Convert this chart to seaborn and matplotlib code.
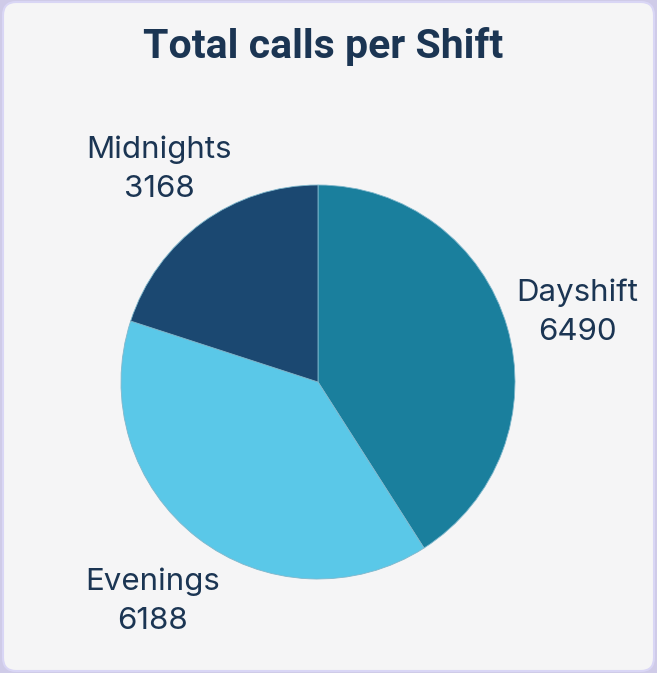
import matplotlib.pyplot as plt
import matplotlib.transforms as mtransforms
import seaborn as sns
from matplotlib.patches import FancyBboxPatch

# === data ===
shifts = ["Dayshift", "Evenings", "Midnights"]
calls = [6490, 6188, 3168]
colors = ["#1a7f9d", "#5ac8e8", "#1b4871"]

sns.set_theme(style="white")
plt.rcParams['font.family'] = ['Inter', 'DejaVu Sans']

W, H = 657, 673
fig = plt.figure(figsize=(W / 100, H / 100), dpi=100)
fig.patch.set_facecolor("#cfcbe8")

# card background
card = FancyBboxPatch((3 / W, 2 / H), (W - 6) / W, (H - 4) / H,
                      boxstyle="round,pad=0,rounding_size=0.02",
                      transform=fig.transFigure, facecolor="#f5f5f6",
                      edgecolor="#d9d6f5", linewidth=1.5, zorder=-10)
fig.patches.append(card)

# pie axes: centre (318, 382), radius 197 px
cx, cy, r = 318, 382, 197
ax = fig.add_axes([(cx - r) / W, (H - cy - r) / H, 2 * r / W, 2 * r / H])
ax.set_zorder(5)
ax.patch.set_alpha(0)
labels = [f"{s}\n{v}" for s, v in zip(shifts, calls)]
wedges, texts = ax.pie(calls, labels=labels, colors=colors, startangle=90,
                       counterclock=False, labeldistance=1.37,
                       wedgeprops=dict(linewidth=0.6, edgecolor="#7fb7cc"),
                       textprops=dict(fontsize=22.5, color="#1b3553",
                                      linespacing=1.5, ha="center", va="center"))
for t in texts:
    t.set_ha("center")
    # labels sit a little lower in the original
    t.set_transform(mtransforms.offset_copy(ax.transData, fig=fig, x=0, y=-6, units="dots"))
ax.set_xlim(-1, 1)
ax.set_ylim(-1, 1)
ax.set_aspect("equal")
ax.axis("off")

fig.text(323 / W, 1 - 46 / H, "Total calls per Shift", ha="center", va="center",
         fontsize=29.5, fontweight="bold", color="#1b3553",
         family=['Roboto', 'DejaVu Sans'])

plt.savefig("out.png", dpi=100, facecolor=fig.get_facecolor())
